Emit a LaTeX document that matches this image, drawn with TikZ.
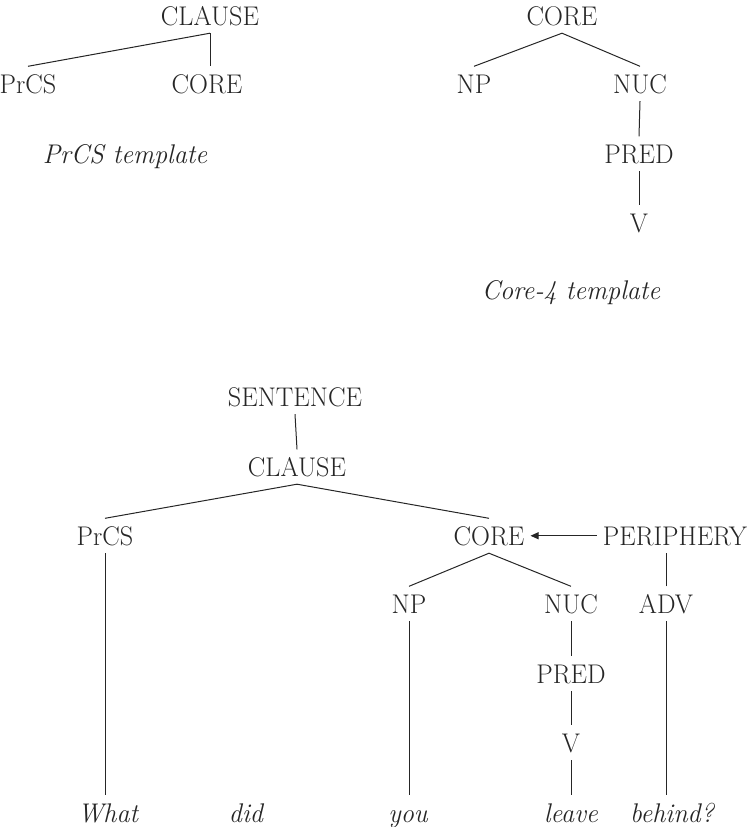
\documentclass[tikz,border=0pt]{standalone}
\usepackage{fontspec}
\setmainfont[FakeStretch=0.97]{Latin Modern Roman}
\usetikzlibrary{arrows.meta}
\begin{document}
\begin{tikzpicture}[x=1pt, y=-1pt,
  lbl/.style={anchor=base, font=\fontsize{27}{32}\selectfont,
    text height=18.5pt, text depth=0pt, inner xsep=6pt, inner ysep=8pt,
    text=black!85},
  word/.style={lbl, font=\fontsize{27}{32}\selectfont\itshape},
  conn/.style={draw=black!85, line width=1pt},
  attach/.style={conn, -{Triangle[length=8pt, width=7pt]}}]
\useasboundingbox (0,0) rectangle (747,827);

% PrCS template
\node[lbl] (tlclause) at (210,25) {CLAUSE};
\node[lbl] (tlprcs)   at (28,93)  {PrCS};
\node[lbl] (tlcore)   at (207,93) {CORE};
\node[word] (tlcap)   at (125,163) {PrCS template};
\draw[conn] (tlclause.south) -- (tlprcs.north);
\draw[conn] (tlclause.south) -- (tlclause.south |- tlcore.north);

% Core-4 template
\node[lbl] (trcore) at (562,25)  {CORE};
\node[lbl] (trnp)   at (474,93)  {NP};
\node[lbl] (trnuc)  at (640,93)  {NUC};
\node[lbl] (trpred) at (639,163) {PRED};
\node[lbl] (trv)    at (639,232) {V};
\node[word] (trcap) at (571,299) {Core-4 template};
\draw[conn] (trcore.south) -- (trnp.north);
\draw[conn] (trcore.south) -- (trnuc.north);
\draw[conn] (trnuc.south) -- (trpred.north);
\draw[conn] (trpred.south) -- (trv.north);

% Sentence tree
\node[lbl] (sentence)  at (295,406) {SENTENCE};
\node[lbl] (clause)    at (297,476) {CLAUSE};
\node[lbl] (prcs)      at (105,545) {PrCS};
\node[lbl] (core)      at (489,545) {CORE};
\node[lbl] (periphery) at (675,545) {PERIPHERY};
\node[lbl] (np)        at (409,613) {NP};
\node[lbl] (nuc)       at (571,613) {NUC};
\node[lbl] (adv)       at (666,613) {ADV};
\node[lbl] (pred)      at (571,683) {PRED};
\node[lbl] (v)         at (571,752) {V};

\node[word] (what)   at (108,822) {What};
\node[word] (did)    at (246,822) {did};
\node[word] (you)    at (408,822) {you};
\node[word] (leave)  at (571,822) {leave};
\node[word] (behind) at (672,822) {behind?};

\draw[conn] (sentence.south) -- (clause.north);
\draw[conn] (clause.south) -- (prcs.north);
\draw[conn] (clause.south) -- (core.north);
\draw[conn] (core.south) -- (np.north);
\draw[conn] (core.south) -- (nuc.north);
\draw[conn] (nuc.south) -- (pred.north);
\draw[conn] (pred.south) -- (v.north);
\draw[conn] (v.south) -- (leave.north);
\draw[conn] (np.south) -- (np.south |- you.north);
\draw[conn] (prcs.south) -- (prcs.south |- what.north);
\draw[conn] (adv.north) -- (adv.north |- periphery.south);
\draw[conn] (adv.south) -- (adv.south |- behind.north);
\draw[attach] (periphery.west) -- (core.east);
\end{tikzpicture}
\end{document}
